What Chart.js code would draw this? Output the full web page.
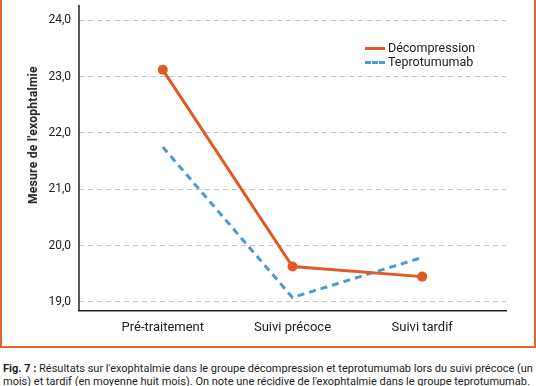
<!DOCTYPE html>
<html>
<head>
<meta charset="utf-8">
<script src="https://cdn.jsdelivr.net/npm/chart.js@4/dist/chart.umd.min.js"></script>
<style>
  body { margin: 0; background: #fff; width: 536px; height: 386px; overflow: hidden; position: relative; font-family: Roboto, sans-serif; }
  #frame { position: absolute; left: 0; top: -6px; width: 532px; height: 350px; border: 2px solid #e2672f; }
  #wrap { position: absolute; left: 0; top: 0; width: 536px; height: 346px; }
  #ytitle { position: absolute; left: 33px; top: 135px; transform: translate(-50%, -50%) rotate(-90deg); font-weight: bold; font-size: 12px; color: #222; white-space: nowrap; letter-spacing: 0.3px; }
  #legend { position: absolute; left: 365px; top: 41px; font-size: 12.5px; color: #222; line-height: 14px; }
  #legend div { display: flex; align-items: center; }
  #legend span.s { display: inline-block; width: 20px; height: 0; margin-right: 3px; }
  #caption { position: absolute; left: 3px; top: 362px; font-size: 11px; color: #222; white-space: nowrap; line-height: 13px; }
</style>
</head>
<body>
<div id="frame"></div>
<div id="wrap"><canvas id="exo" width="536" height="346"></canvas></div>
<div id="ytitle">Mesure de l'exophtalmie</div>
<div id="legend"></div>
<div id="caption"><b>Fig. 7 :</b> Résultats sur l'exophtalmie dans le groupe décompression et teprotumumab lors du suivi précoce (un<br>mois) et tardif (en moyenne huit mois). On note une récidive de l'exophtalmie dans le groupe teprotumumab.</div>
<script>
const categories = ["Pré-traitement", "Suivi précoce", "Suivi tardif"];
const decompression = [23.12, 19.63, 19.45];
const teprotumumab = [21.75, 19.08, 19.79];
const yTicks = [19, 20, 21, 22, 23, 24];

const orange = '#e05a26';
const blue = '#4b9ad5';

function points(values) {
    return values.map((v, i) => ({ x: i, y: v }));
}

// solid y axis line (grid lines are dashed)
const yAxisLine = {
    id: 'yAxisLine',
    afterDraw(chart) {
        const ctx = chart.ctx;
        const a = chart.chartArea;
        ctx.save();
        ctx.strokeStyle = '#222';
        ctx.lineWidth = 1.5;
        ctx.beginPath();
        ctx.moveTo(a.left, a.top);
        ctx.lineTo(a.left, a.bottom);
        ctx.stroke();
        ctx.restore();
    }
};

let exo = new Chart(document.getElementById("exo").getContext("2d"), {
    type: 'line',
    data: {
        datasets: [{
                label: "Décompression",
                borderColor: orange,
                backgroundColor: orange,
                borderWidth: 3,
                pointRadius: 5,
                pointBackgroundColor: orange,
                pointBorderWidth: 0,
                tension: 0,
                data: points(decompression)
            },
            {
                label: "Teprotumumab",
                borderColor: blue,
                backgroundColor: blue,
                borderWidth: 3,
                borderDash: [7, 5],
                pointRadius: 0,
                tension: 0,
                data: points(teprotumumab)
            }
        ]
    },
    options: {
        responsive: false,
        animation: false,
        layout: {
            padding: { left: 0, top: 3, right: 30, bottom: 0 }
        },
        plugins: {
            legend: { display: false },
            tooltip: { enabled: false }
        },
        scales: {
            x: {
                type: 'linear',
                min: -0.646,
                max: 2.646,
                afterBuildTicks: s => { s.ticks = categories.map((c, i) => ({ value: i })); },
                afterFit: s => { s.height = 35; s.paddingLeft = 0; s.paddingRight = 0; },
                grid: { display: false, drawTicks: false },
                border: { color: '#222', width: 1.5 },
                ticks: {
                    padding: 9,
                    color: '#222',
                    font: { family: 'Roboto', size: 13 },
                    callback: v => categories[v]
                }
            },
            y: {
                min: 18.84,
                max: 24.27,
                afterBuildTicks: s => { s.ticks = yTicks.map(v => ({ value: v })); },
                afterFit: s => { s.width = 79; s.paddingTop = 0; s.paddingBottom = 0; },
                grid: { color: '#c4c4c4', drawTicks: false },
                border: { display: false, dash: [5, 4] },
                ticks: {
                    padding: 8,
                    color: '#222',
                    font: { family: 'Roboto', size: 12 },
                    callback: v => v.toFixed(1).replace('.', ',')
                }
            }
        }
    },
    plugins: [yAxisLine]
});

const legend = document.getElementById("legend");
exo.data.datasets.forEach(ds => {
    const row = document.createElement("div");
    const s = document.createElement("span");
    s.className = "s";
    s.style.borderTop = "3px " + (ds.borderDash ? "dashed " : "solid ") + ds.borderColor;
    row.appendChild(s);
    row.appendChild(document.createTextNode(ds.label));
    legend.appendChild(row);
});
</script>
</body>
</html>
